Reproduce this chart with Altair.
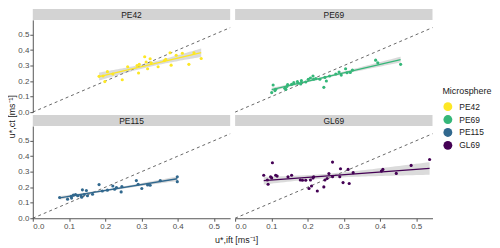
import altair as alt
import pandas as pd
import numpy as np

groups = ["PE42", "PE69", "PE115", "GL69"]
colors = ["#FDE725", "#35B779", "#31688E", "#440154"]

pe42_x = [0.183, 0.194, 0.206, 0.199, 0.221, 0.247, 0.262, 0.288, 0.294, 0.292, 0.309, 0.313, 0.317,
          0.324, 0.327, 0.346, 0.363, 0.367, 0.379, 0.382, 0.396, 0.413, 0.431, 0.445, 0.465]
pe42_y = [0.231, 0.233, 0.261, 0.197, 0.246, 0.209, 0.293, 0.301, 0.308, 0.252, 0.357, 0.323, 0.280,
          0.344, 0.318, 0.293, 0.331, 0.340, 0.383, 0.303, 0.367, 0.380, 0.308, 0.383, 0.346]

pe69_x = [0.101, 0.105, 0.110, 0.112, 0.137, 0.140, 0.143, 0.145, 0.156, 0.162, 0.172, 0.174, 0.181,
          0.183, 0.195, 0.202, 0.208, 0.215, 0.217, 0.223, 0.234, 0.245, 0.248, 0.252, 0.261, 0.278,
          0.287, 0.293, 0.305, 0.309, 0.318, 0.324, 0.388, 0.394, 0.457]
pe69_y = [0.126, 0.175, 0.139, 0.147, 0.154, 0.147, 0.165, 0.178, 0.179, 0.190, 0.197, 0.186, 0.182,
          0.203, 0.194, 0.212, 0.220, 0.233, 0.212, 0.216, 0.212, 0.160, 0.224, 0.201, 0.233, 0.246,
          0.258, 0.239, 0.280, 0.254, 0.256, 0.271, 0.335, 0.318, 0.308]

pe115_x = [0.074, 0.096, 0.106, 0.107, 0.112, 0.118, 0.124, 0.133, 0.135, 0.137, 0.142, 0.148, 0.151,
           0.165, 0.183, 0.192, 0.206, 0.221, 0.226, 0.231, 0.244, 0.246, 0.286, 0.291, 0.301, 0.317,
           0.324, 0.352, 0.399, 0.399]
pe115_y = [0.134, 0.123, 0.141, 0.130, 0.149, 0.153, 0.145, 0.145, 0.136, 0.183, 0.153, 0.179, 0.145,
           0.155, 0.217, 0.176, 0.181, 0.208, 0.187, 0.198, 0.170, 0.204, 0.243, 0.219, 0.192, 0.215,
           0.213, 0.243, 0.268, 0.236]

gl69_x = [0.079, 0.089, 0.091, 0.098, 0.101, 0.103, 0.112, 0.116, 0.146, 0.156, 0.180, 0.186, 0.195,
          0.204, 0.208, 0.211, 0.215, 0.217, 0.227, 0.245, 0.248, 0.254, 0.259, 0.269, 0.269, 0.289,
          0.291, 0.298, 0.312, 0.315, 0.326, 0.404, 0.408, 0.445, 0.486, 0.537]
gl69_y = [0.277, 0.247, 0.219, 0.268, 0.260, 0.358, 0.277, 0.272, 0.268, 0.277, 0.247, 0.245, 0.245,
          0.192, 0.247, 0.208, 0.260, 0.268, 0.176, 0.202, 0.247, 0.256, 0.288, 0.362, 0.268, 0.268,
          0.319, 0.230, 0.315, 0.224, 0.294, 0.304, 0.315, 0.289, 0.341, 0.379]

one_to_one = [0.0, 0.545]

series = {"PE42": (pe42_x, pe42_y), "PE69": (pe69_x, pe69_y),
          "PE115": (pe115_x, pe115_y), "GL69": (gl69_x, gl69_y)}

W, H = 199, 93
FONT = "Liberation Sans"


def ci_band(xv, yv):
    x = np.array(xv); y = np.array(yv); n = len(x)
    b, a = np.polyfit(x, y, 1)
    res = y - (a + b * x)
    s = np.sqrt(np.sum(res ** 2) / (n - 2))
    xm = x.mean(); sxx = np.sum((x - xm) ** 2)
    g = np.linspace(x.min(), x.max(), 50)
    se = s * np.sqrt(1.0 / n + (g - xm) ** 2 / sxx)
    t = 1.96 + 2.4 / (n - 2)
    fit = a + b * g
    return pd.DataFrame({"x": g, "lo": fit - t * se, "hi": fit + t * se})


xs = alt.Scale(domain=[0, 0.545], nice=False, zero=False)
ys = alt.Scale(domain=[0, 0.595], nice=False, zero=False)
cscale = alt.Scale(domain=groups, range=colors)
ticks = [0.0, 0.1, 0.2, 0.3, 0.4, 0.5]


def panel(name, show_x, show_y, xtitle=False, ytitle=False):
    xv, yv = series[name]
    d = pd.DataFrame({"x": xv, "y": yv, "Microsphere": [name] * len(xv)})
    if show_x:
        if xtitle:
            xaxis = alt.Axis(values=ticks, format=".1f", grid=False, title="u*,ift [ms⁻¹]",
                             titleX=205, titleY=21, titleAlign="center", titleBaseline="middle")
        else:
            xaxis = alt.Axis(values=ticks, format=".1f", grid=False, title=None)
    else:
        xaxis = None
    if show_y:
        if ytitle:
            yaxis = alt.Axis(values=ticks, format=".1f", grid=False, title="u*,ct [ms⁻¹]",
                             titleX=-21, titleY=97, titleAngle=-90, titleAlign="center",
                             titleBaseline="middle")
        else:
            yaxis = alt.Axis(values=ticks, format=".1f", grid=False, title=None)
    else:
        yaxis = None

    def X(f):
        return alt.X(f, type="quantitative", scale=xs, axis=xaxis)

    def Y(f):
        return alt.Y(f, type="quantitative", scale=ys, axis=yaxis)

    dash = alt.Chart(pd.DataFrame({"x": one_to_one, "y": one_to_one})).mark_line(
        strokeDash=[3, 3], color="#404040", strokeWidth=0.8).encode(x=X("x"), y=Y("y"))
    band = alt.Chart(ci_band(xv, yv)).mark_area(color="#999999", opacity=0.35).encode(
        x=X("x"), y=Y("lo"), y2="hi:Q")
    col = colors[groups.index(name)]
    line = alt.Chart(d).transform_regression("x", "y").mark_line(
        color=col, strokeWidth=1.3).encode(x=X("x"), y=Y("y"))
    pts = alt.Chart(d).mark_circle(size=10, opacity=1).encode(
        x=X("x"), y=Y("y"),
        color=alt.Color("Microsphere:N", scale=cscale,
                        legend=alt.Legend(title="Microsphere", orient="none", legendX=413,
                                          legendY=79, symbolSize=80, symbolType="circle",
                                          rowPadding=3, labelFontSize=8.5, titleFontSize=9,
                                          titleFontWeight="normal", titlePadding=5,
                                          labelOffset=6, padding=0)))
    return alt.layer(dash, band, line, pts).properties(width=W, height=H)


def strip(name, h, top):
    d = pd.DataFrame({"label": [name]})
    rect = alt.Chart(d).mark_rect(color="#d3d3d3").encode(
        x=alt.value(0), x2=alt.value(W), y=alt.value(top), y2=alt.value(h))
    txt = alt.Chart(d).mark_text(fontSize=8.5, color="#1a1a1a", font=FONT).encode(
        text="label:N", x=alt.value(W / 2), y=alt.value((top + h) / 2 + 0.5))
    return alt.layer(rect, txt).properties(width=W, height=h)


cells = [
    strip("PE42", 11, 0), strip("PE69", 11, 0),
    panel("PE42", False, True, ytitle=True), panel("PE69", False, False),
    strip("PE115", 14, 3), strip("GL69", 14, 3),
    panel("PE115", True, True, xtitle=True), panel("GL69", True, False),
]

chart = alt.concat(*cells, columns=2, spacing={"row": 0, "column": 5}, bounds="flush").resolve_scale(
    color="shared").properties(padding=0).configure_view(stroke=None).configure_axis(
    labelFontSize=8, labelColor="#4d4d4d", labelFont=FONT, titleFont=FONT, titleFontSize=9,
    titleFontWeight="normal", titleColor="#1a1a1a", domainColor="#555555", tickColor="#555555",
    tickSize=3, labelPadding=1).configure_legend(labelFont=FONT, titleFont=FONT,
                                                 labelColor="#1a1a1a", titleColor="#1a1a1a")

chart.save("out.html", embed_options={"renderer": "svg", "actions": False})
